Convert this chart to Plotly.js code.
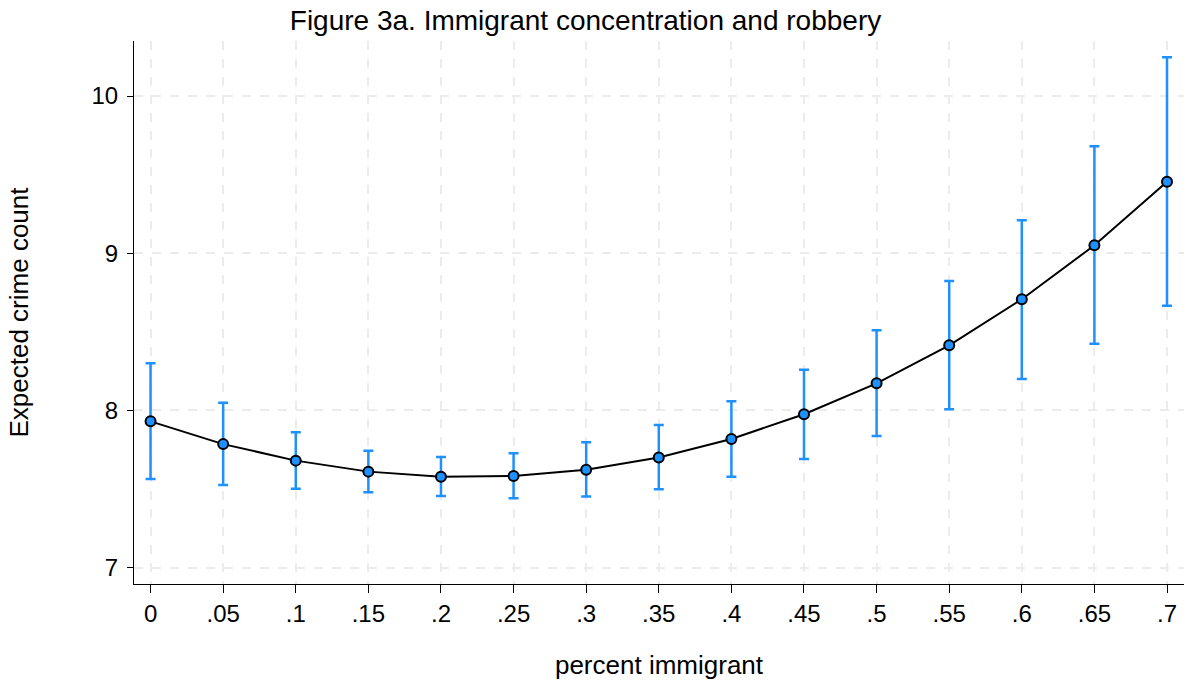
<!DOCTYPE html>
<html>
<head>
<meta charset="utf-8">
<script src="https://cdn.plot.ly/plotly-3.0.1.min.js"></script>
<style>
  html, body { margin: 0; padding: 0; background: #ffffff; }
  #chart { width: 1187px; height: 683px; }
</style>
</head>
<body>
<div id="chart"></div>
<script>
// Predicted robbery counts by share of immigrant residents, with 95% CIs
const pctImmigrant = [0, 0.05, 0.1, 0.15, 0.2, 0.25, 0.3, 0.35, 0.4, 0.45, 0.5, 0.55, 0.6, 0.65, 0.7];
const expectedCount = [7.93, 7.785, 7.68, 7.61, 7.578, 7.582, 7.622, 7.70, 7.818, 7.975, 8.172, 8.414, 8.707, 9.05, 9.455];
const ciUpper = [8.30, 8.049, 7.86, 7.743, 7.703, 7.727, 7.797, 7.907, 8.058, 8.259, 8.509, 8.823, 9.209, 9.68, 10.247];
const ciLower = [7.563, 7.525, 7.501, 7.479, 7.455, 7.44, 7.451, 7.498, 7.578, 7.69, 7.837, 8.007, 8.20, 8.424, 8.666];

const xTickVals = [0, 0.05, 0.1, 0.15, 0.2, 0.25, 0.3, 0.35, 0.4, 0.45, 0.5, 0.55, 0.6, 0.65, 0.7];
const xTickText = ['0', '.05', '.1', '.15', '.2', '.25', '.3', '.35', '.4', '.45', '.5', '.55', '.6', '.65', '.7'];
const yTickVals = [7, 8, 9, 10];
const yTickText = ['7', '8', '9', '10'];

const errPlus = ciUpper.map((u, i) => u - expectedCount[i]);
const errMinus = ciLower.map((l, i) => expectedCount[i] - l);

const FONT = '"Liberation Sans", Arial, Helvetica, sans-serif';
const BLUE = '#1e90ff';

const traces = [{
  type: 'scatter',
  mode: 'lines+markers',
  x: pctImmigrant,
  y: expectedCount,
  line: { color: '#000000', width: 2 },
  marker: { color: BLUE, size: 10, line: { color: '#000000', width: 2 } },
  error_y: {
    type: 'data',
    symmetric: false,
    array: errPlus,
    arrayminus: errMinus,
    color: BLUE,
    thickness: 2.5,
    width: 5
  },
  hoverinfo: 'skip',
  showlegend: false
}];

const layout = {
  width: 1187,
  height: 683,
  paper_bgcolor: '#ffffff',
  plot_bgcolor: '#ffffff',
  margin: { l: 134, r: 3, t: 41, b: 99 },
  font: { family: FONT, color: '#000000', size: 24 },
  title: {
    text: 'Figure 3a. Immigrant concentration and robbery',
    font: { family: FONT, size: 28, color: '#000000' },
    xref: 'paper',
    x: 0.43,
    xanchor: 'center',
    yref: 'container',
    y: 0.97,
    yanchor: 'middle'
  },
  xaxis: {
    range: [-0.0114, 0.7117],
    tickvals: xTickVals,
    ticktext: xTickText,
    ticks: 'outside',
    ticklen: 8,
    tickwidth: 1,
    tickcolor: '#000000',
    tickfont: { family: FONT, size: 24 },
    showline: true,
    linecolor: '#000000',
    linewidth: 1,
    showgrid: true,
    gridcolor: '#ececec',
    gridwidth: 2,
    griddash: 'dash',
    zeroline: false,
    title: { text: 'percent immigrant', font: { family: FONT, size: 26 }, standoff: 30 }
  },
  yaxis: {
    range: [6.895, 10.35],
    tickvals: yTickVals,
    ticktext: yTickText,
    ticks: 'outside',
    ticklen: 6,
    tickwidth: 1,
    tickcolor: '#000000',
    tickfont: { family: FONT, size: 24 },
    ticklabelstandoff: 4,
    showline: true,
    linecolor: '#000000',
    linewidth: 1,
    showgrid: true,
    gridcolor: '#ececec',
    gridwidth: 2,
    griddash: 'dash',
    zeroline: false,
    title: { text: 'Expected crime count', font: { family: FONT, size: 26 }, standoff: 55 }
  }
};

Plotly.newPlot('chart', traces, layout, { staticPlot: true, displayModeBar: false });
</script>
</body>
</html>
